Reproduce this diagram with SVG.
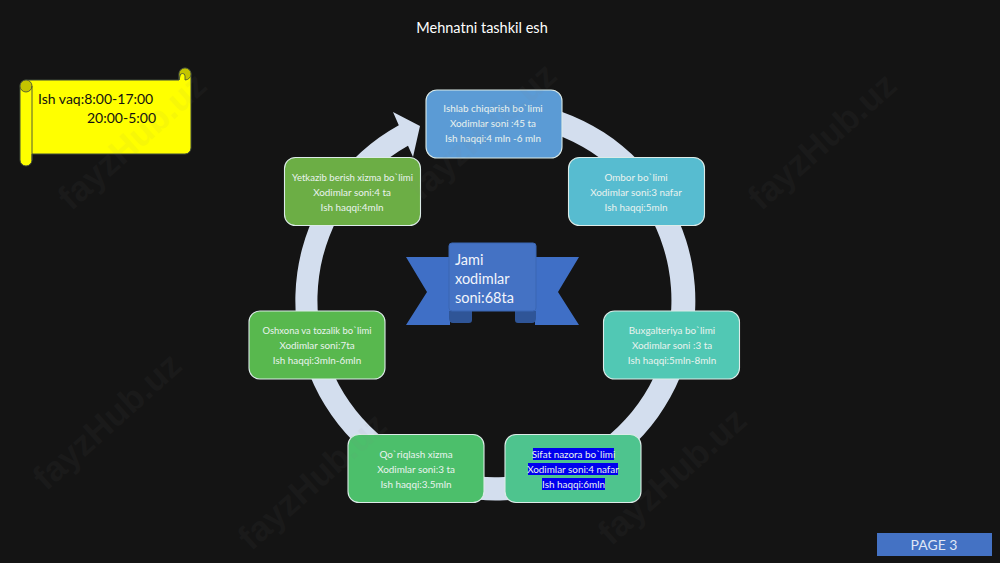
<svg xmlns="http://www.w3.org/2000/svg" width="1000" height="563" viewBox="0 0 1000 563">
<style>
text{font-family:"Lato","Open Sans","Liberation Sans",sans-serif}
.n{stroke:#dcebe8;stroke-width:1.1}
.t{font-size:9.9px;fill:#eaf3ef;text-anchor:middle}
.wm{font-family:"Liberation Sans",sans-serif;font-weight:bold;font-size:35px;fill:#808080;opacity:.055;text-anchor:middle}
.sc{fill:#ffff00;stroke:#3f4a3a;stroke-width:1}
.curl{fill:#c4c400;stroke:#3f4a3a;stroke-width:.8}
</style>
<rect width="1000" height="563" fill="#141414"/>
<text x="482" y="33" font-size="14.5" fill="#fff" text-anchor="middle">Mehnatni tashkil esh</text>
<g id="connectors">
<path d="M398.8 125.3 L393 112 L420 126 L413 157 L408 145.8 A177 177 0 1 0 534.7 127.9 L540 105.5 A200 200 0 1 1 398.8 125.3 Z" fill="#d3deee"/>
</g>
<g id="scroll">
<path class="sc" d="M26 80 H179 V74 A6 6 0 0 1 191 74 V148 A6 6 0 0 1 185 154 H32 V160 A6 6 0 0 1 20 160 V86 A6 6 0 0 1 26 80 Z"/>
<path class="curl" d="M179 80 V74 A6 6 0 0 1 191 74 A6 6 0 0 1 185 80 V76 A2.500 2.500 0 0 0 180 76 Z"/>
<path class="curl" d="M20 86 A6 6 0 0 1 32 86 A6 6 0 0 1 20 86 Z"/>
<path d="M32 160 V86" fill="none" stroke="#3f4a3a" stroke-width=".9"/>
<text x="38" y="104" font-size="14" fill="#111">Ish vaq:8:00-17:00</text>
<text x="87" y="123" font-size="14" fill="#111">20:00-5:00</text>
</g>
<g id="node-ishlab"><rect class="n" x="426" y="90" width="136" height="68" rx="11" fill="#5b9bd5"/>
<text class="t" x="493" y="111.500">Ishlab chiqarish bo`limi</text><text class="t" x="493" y="126.500">Xodimlar soni :45 ta</text><text class="t" x="493" y="141.500">Ish haqqi:4 mln -6 mln</text></g>
<g id="node-omber"><rect class="n" x="568.500" y="157.500" width="136" height="68" rx="11" fill="#57bcd0"/>
<text class="t" x="636" y="180.500">Ombor bo`limi</text><text class="t" x="636" y="195.500">Xodimlar soni:3 nafar</text><text class="t" x="636" y="210.500">Ish haqqi:5mln</text></g>
<g id="node-buxgalteriya"><rect class="n" x="603.500" y="311" width="136" height="68" rx="11" fill="#51c8b4"/>
<text class="t" x="672" y="333.500">Buxgalteriya bo`limi</text><text class="t" x="672" y="348.500">Xodimlar soni :3 ta</text><text class="t" x="672" y="363.500">Ish haqqi:5mln-8mln</text></g>
<g id="node-sifat"><rect class="n" x="505" y="434.500" width="136" height="68" rx="11" fill="#4ec48e"/>
<rect x="533" y="448" width="81" height="12" fill="#0000ee"/><rect x="528" y="463" width="90" height="12" fill="#0000ee"/><rect x="542" y="478" width="63" height="12" fill="#0000ee"/>
<text class="t" x="573.500" y="457.500">Sifat nazora bo`limi</text><text class="t" x="573" y="472.500">Xodimlar soni:4 nafar</text><text class="t" x="573.500" y="487.500">Ish haqqi:6mln</text></g>
<g id="node-qoriqlash"><rect class="n" x="348" y="434.500" width="136" height="68" rx="11" fill="#4cbf6b"/>
<text class="t" x="416" y="457.500">Qo`riqlash xizma</text><text class="t" x="416" y="472.500">Xodimlar soni:3 ta</text><text class="t" x="416" y="487.500">Ish haqqi:3.5mln</text></g>
<g id="node-oshxona"><rect class="n" x="249" y="311" width="136" height="68" rx="11" fill="#58b84e"/>
<text class="t" x="317" y="333.500" textLength="109" lengthAdjust="spacingAndGlyphs">Oshxona va tozalik bo`limi</text><text class="t" x="317" y="348.500">Xodimlar soni:7ta</text><text class="t" x="317" y="363.500">Ish haqqi:3mln-6mln</text></g>
<g id="node-yetkazib"><rect class="n" x="284.500" y="157.500" width="136" height="68" rx="11" fill="#6cae45"/>
<text class="t" x="352.500" y="180.500" textLength="121" lengthAdjust="spacingAndGlyphs">Yetkazib berish xizma bo`limi</text><text class="t" x="352" y="195.500">Xodimlar soni:4 ta</text><text class="t" x="352" y="210.500">Ish haqqi:4mln</text></g>
<g id="node-jami">
<path d="M406 257 H450 V325 H406 L427 292 Z M579 257 H535 V325 H579 L558 292 Z" fill="#3f6fc6"/>
<path d="M449 311 H472 V320 Q472 323 469 323 H453 Q449 323 449 318 Z M536 311 H515 V320 Q515 323 518 323 H532 Q536 323 536 318 Z" fill="#2f5597"/>
<rect x="449" y="243" width="87" height="68" rx="3" fill="#4472c4" stroke="#3b66b3" stroke-width="1"/>
<text x="455" y="265" font-size="14.5" fill="#f2f5fb">Jami</text><text x="455" y="284" font-size="14.5" fill="#f2f5fb">xodimlar</text><text x="455" y="303" font-size="14.5" fill="#f2f5fb">soni:68ta</text>
</g>
<g id="node-page"><rect x="877" y="533" width="115" height="23" fill="#4472c4"/>
<text x="934" y="550" font-size="14" fill="#dfe7f6" text-anchor="middle">PAGE 3</text></g>
<g id="watermarks">
<text class="wm" transform="translate(140 150) rotate(-42)">fayzHub.uz</text>
<text class="wm" transform="translate(490 140) rotate(-42)">fayzHub.uz</text>
<text class="wm" transform="translate(830 150) rotate(-42)">fayzHub.uz</text>
<text class="wm" transform="translate(320 490) rotate(-42)">fayzHub.uz</text>
<text class="wm" transform="translate(680 485) rotate(-42)">fayzHub.uz</text>
<text class="wm" transform="translate(115 430) rotate(-42)">fayzHub.uz</text>
</g>
</svg>
